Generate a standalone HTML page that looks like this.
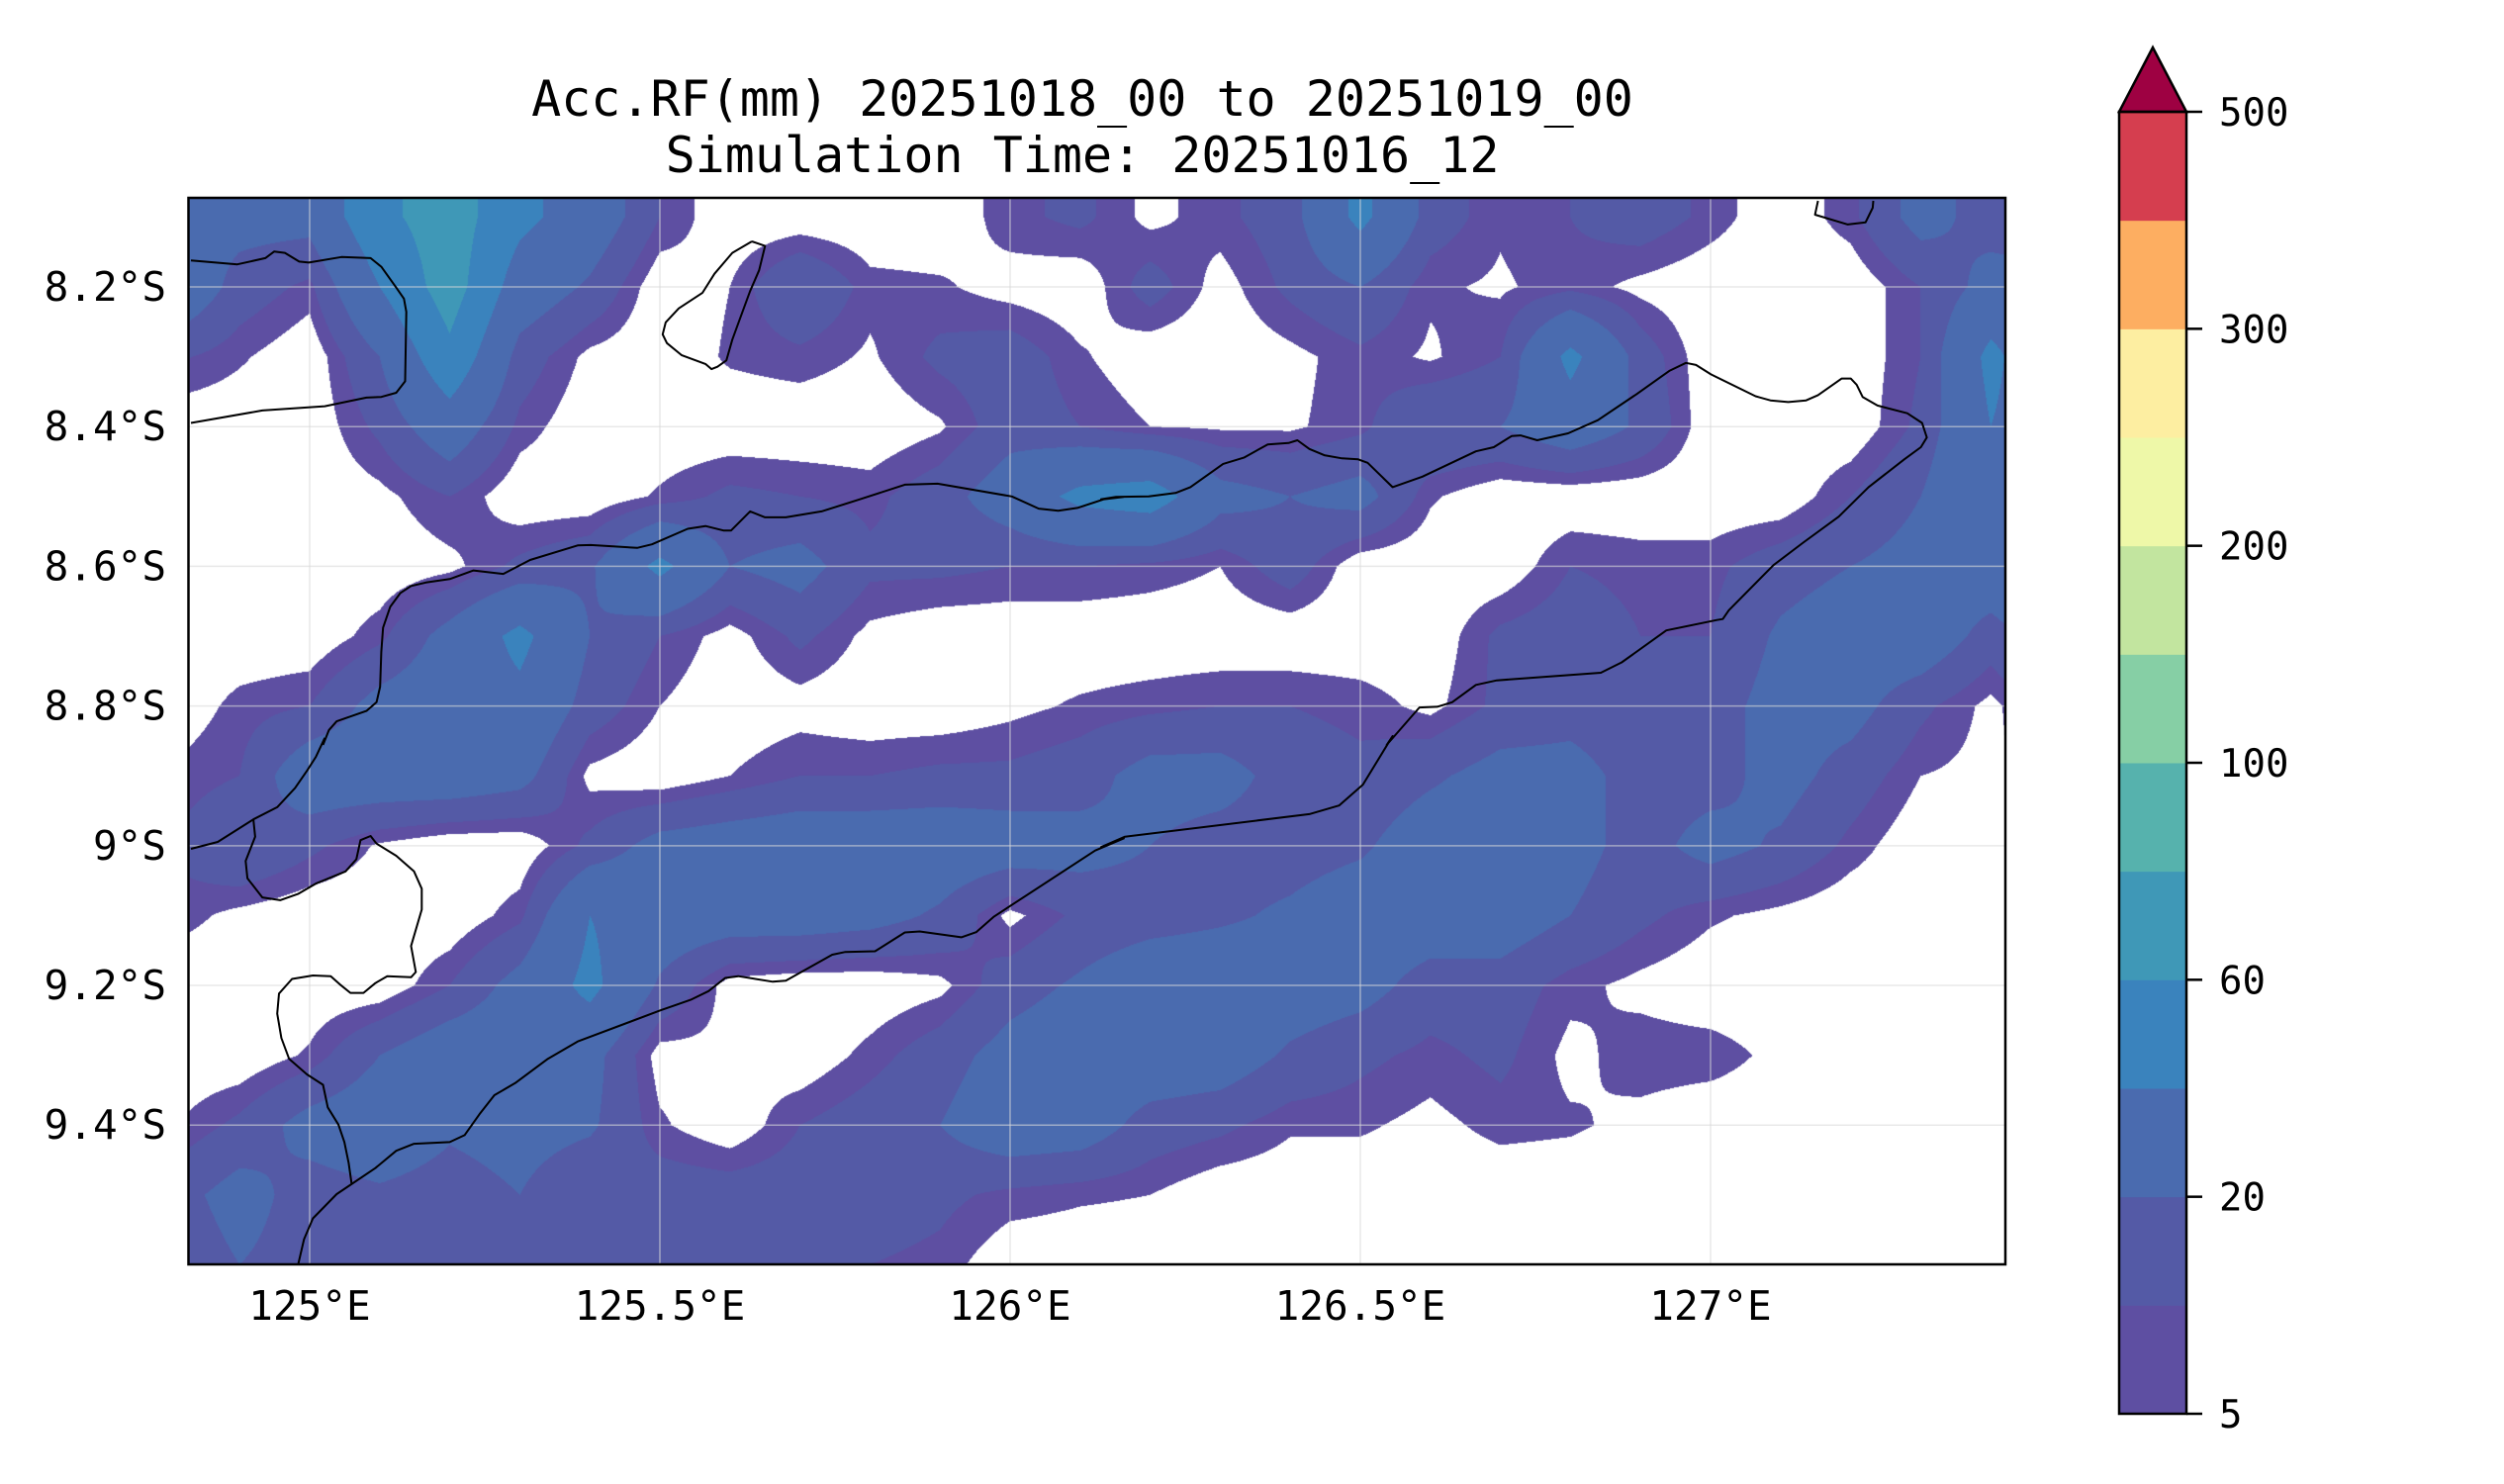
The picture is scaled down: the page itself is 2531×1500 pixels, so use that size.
<!DOCTYPE html>
<html><head><meta charset="utf-8"><style>
html,body{margin:0;padding:0;background:#fff;}
#wrap{position:relative;width:2531px;height:1500px;overflow:hidden;background:#fff;}
#fill{position:absolute;left:0;top:0;}
svg{position:absolute;left:0;top:0;}
text{font-family:"DejaVu Sans Mono","Liberation Mono",monospace;fill:#000;}
</style></head><body>
<div id="wrap">
<canvas id="fill" width="2531" height="1500"></canvas>
<svg id="svg" width="2531" height="1500">
<text x="1094" y="117" font-size="50" text-anchor="middle">Acc.RF(mm) 20251018_00 to 20251019_00</text>
<text x="1094" y="174" font-size="50" text-anchor="middle">Simulation Time: 20251016_12</text>
<g id="grid"></g>
<g id="coast"></g>
<rect x="190.5" y="200" width="1836.5" height="1078" fill="none" stroke="#000" stroke-width="2.5"/>
<g id="xlabels"></g>
<g id="ylabels"></g>
<g id="cbar"></g>
</svg>
</div>
<script>
const lonCoords=[124.8,124.9,125.0,125.1,125.2,125.3,125.4,125.5,125.6,125.7,125.8,125.9,126.0,126.1,126.2,126.3,126.4,126.5,126.6,126.7,126.8,126.9,127.0,127.1,127.2,127.3,127.4,127.5];
const latCoords=[8.0,8.1,8.2,8.3,8.4,8.5,8.6,8.7,8.8,8.9,9.0,9.1,9.2,9.3,9.4,9.5,9.6,9.7];
const rainMm=[
[25,25,25,55,70,45,30,10,0,0,0,0,8,12,3,8,15,45,15,6,10,15,8,0,8,25,15,5],
[25,25,25,55,70,45,30,10,0,0,0,0,8,12,3,8,15,45,15,6,10,15,8,0,8,25,15,5],
[35,15,8,40,70,30,18,0,5,20,7,6,2,0,14,2,12,20,6,4,8,3,0,0,0,10,25,30],
[12,6,0,20,55,15,3,0,6,8,4,12,15,6,0,0,3,8,4,10,45,15,0,0,0,10,45,20],
[0,0,0,12,30,8,0,0,0,0,0,4,15,10,5,4,4,8,20,20,30,18,0,0,0,12,40,25],
[0,0,0,3,10,0,0,6,12,10,8,15,28,45,50,25,20,25,6,0,0,0,0,0,10,20,40,30],
[0,0,0,0,3,12,18,45,20,25,12,12,10,10,8,5,15,0,0,0,10,8,8,15,20,25,30,30],
[0,0,0,8,25,45,20,10,2,12,3,0,0,0,0,0,0,0,0,12,15,10,10,22,28,30,15,30],
[0,7,10,25,30,35,15,5,0,2,0,0,3,6,8,10,10,8,3,12,15,12,15,25,25,12,3,15],
[6,10,30,30,30,25,3,0,5,10,10,12,12,15,25,25,15,12,18,25,25,15,15,25,15,5,3,10],
[10,20,12,4,0,0,12,25,28,30,30,30,28,25,20,15,15,18,28,28,25,15,25,18,8,0,0,0],
[8,3,0,0,0,8,40,30,28,28,25,18,3,12,15,18,22,28,28,28,20,12,6,3,0,0,0,0],
[0,0,0,0,10,25,45,18,2,0,0,3,15,22,30,30,28,25,15,15,7,3,0,0,0,0,0,0],
[0,0,6,20,30,30,25,2,4,0,7,15,25,30,30,28,18,12,8,12,3,8,8,3,0,0,0,0],
[4,12,25,30,22,25,22,6,0,10,15,20,30,28,15,12,6,6,3,7,6,3,0,0,0,0,0,0],
[15,25,15,18,15,20,10,15,15,15,15,12,8,6,5,0,0,0,0,0,0,0,0,0,0,0,0,0],
[12,20,15,15,10,15,10,12,12,12,10,8,0,0,0,0,0,0,0,0,0,0,0,0,0,0,0,0],
[12,20,15,15,10,15,10,12,12,12,10,8,0,0,0,0,0,0,0,0,0,0,0,0,0,0,0,0]];
const levels=[5,10,20,40,60,80,100,150,200,250,300,400,500];
const levelColors=["#5e4fa2","#545aa6","#4a6baf","#3a83bd","#3f98b7","#56b2ad","#86cfa5","#c2e59f","#eef8a8","#fdeea1","#fdae61","#d53e4f"];
const overColor="#9e0142";
const cbarTicks=[5,20,60,100,200,300,500];
const xTicks=[125,125.5,126,126.5,127];
const xTickLabels=["125°E","125.5°E","126°E","126.5°E","127°E"];
const yTicks=[8.2,8.4,8.6,8.8,9.0,9.2,9.4];
const yTickLabels=["8.2°S","8.4°S","8.6°S","8.8°S","9°S","9.2°S","9.4°S"];

const PL=190.5,PR=2027,PT=200,PB=1278;
const LON0=124.827,LAT0=8.0725,PXD=708,PYD=706;
function xOf(lon){return PL+(lon-LON0)*PXD;}
function yOf(lat){return PT+(lat-LAT0)*PYD;}
const NS="http://www.w3.org/2000/svg";
function mk(tag,attrs,parent){const e=document.createElementNS(NS,tag);for(const k in attrs)e.setAttribute(k,attrs[k]);parent.appendChild(e);return e;}

(function(){
 const cv=document.getElementById('fill');const ctx=cv.getContext('2d');
 const x0=Math.ceil(PL),x1=Math.floor(PR),y0=Math.ceil(PT),y1=Math.floor(PB);
 const w=x1-x0,h=y1-y0;const img=ctx.createImageData(w,h);
 const rgb=levelColors.map(c=>[parseInt(c.substr(1,2),16),parseInt(c.substr(3,2),16),parseInt(c.substr(5,2),16)]);
 const orgb=[158,1,66];
 const dLon=lonCoords[1]-lonCoords[0],dLat=latCoords[1]-latCoords[0];
 for(let j=0;j<h;j++){
  const lat=LAT0+(y0+j+0.5-PT)/PYD;let fy=(lat-latCoords[0])/dLat;let r=Math.floor(fy);
  if(r<0)r=0;if(r>latCoords.length-2)r=latCoords.length-2;const ty=fy-r;
  for(let i=0;i<w;i++){
   const lon=LON0+(x0+i+0.5-PL)/PXD;let fx=(lon-lonCoords[0])/dLon;let c=Math.floor(fx);
   if(c<0)c=0;if(c>lonCoords.length-2)c=lonCoords.length-2;const tx=fx-c;
   const v=(rainMm[r][c]*(1-tx)+rainMm[r][c+1]*tx)*(1-ty)+(rainMm[r+1][c]*(1-tx)+rainMm[r+1][c+1]*tx)*ty;
   const p=(j*w+i)*4;
   if(v<levels[0]){img.data[p]=255;img.data[p+1]=255;img.data[p+2]=255;img.data[p+3]=255;continue;}
   let k=0;while(k<levels.length-1&&v>=levels[k+1])k++;
   const col=k>=levelColors.length?orgb:rgb[k];
   img.data[p]=col[0];img.data[p+1]=col[1];img.data[p+2]=col[2];img.data[p+3]=255;
  }
 }
 ctx.putImageData(img,x0,y0);
})();

const grid=document.getElementById('grid');
xTicks.forEach(v=>{const l=mk('line',{x1:xOf(v),x2:xOf(v),y1:PT,y2:PB,stroke:'#d8d8d8','stroke-width':1.5,'stroke-opacity':0.6},grid);
});
yTicks.forEach(v=>{const l=mk('line',{x1:PL,x2:PR,y1:yOf(v),y2:yOf(v),stroke:'#d8d8d8','stroke-width':1.5,'stroke-opacity':0.6},grid);
});

const xl=document.getElementById('xlabels');
xTicks.forEach((v,i)=>{const t=mk('text',{x:xOf(v),y:1334,'font-size':41,'text-anchor':'middle'},xl);t.textContent=xTickLabels[i];
});
const yl=document.getElementById('ylabels');
yTicks.forEach((v,i)=>{const t=mk('text',{x:168,y:yOf(v)+14,'font-size':41,'text-anchor':'end'},yl);t.textContent=yTickLabels[i];
});

const coastA=[[0,172],[78,183],[125,165],[140,146],[158,150],[182,175],[198,178],[253,162],[302,165],[320,190],[345,250],[358,282],[362,320],[360,520],[345,553],[320,565],[295,567],[225,592],[120,604],[0,640]];
const coastIsland=[[943,117],[965,130],[955,200],[940,260],[925,330],[910,400],[900,460],[885,478],[875,485],[865,470],[825,445],[800,410],[793,385],[798,350],[820,310],[860,265],[880,210],[910,150],[943,117]];
const coastMainZ2=[[222,1568],[232,1525],[245,1500],[295,1470],[312,1445],[318,1400],[320,1300],[323,1230],[335,1170],[352,1130],[370,1110],[395,1100],[435,1090],[475,1065],[525,1075],[570,1035],[650,993],[672,992],[750,1000],[775,990],[835,945],[865,937],[895,950],[908,950],[940,895],[965,912],[1000,912],[1060,895],[1125,860],[1200,818],[1255,815],[1380,852],[1425,887],[1458,893],[1490,885],[1535,860],[1568,853]];
const coastMainZ3=[[0,860],[25,853],[80,852],[125,842],[150,825],[205,758],[240,740],[280,702],[315,698],[330,690],[350,715],[375,733],[405,742],[432,745],[448,755],[490,825],[540,795],[630,722],[660,710],[690,678],[705,676],[733,690],[785,670],[835,632],[900,557],[955,490],[983,467],[1000,473],[1025,500],[1100,563],[1125,575],[1155,580],[1185,575],[1205,560],[1245,512],[1260,512],[1270,530],[1280,565],[1305,590],[1355,612],[1380,640],[1388,682],[1378,710],[1350,745],[1290,825],[1240,910],[1180,985],[1130,1050],[1055,1180],[1045,1205],[1035,1208],[950,1238],[875,1330],[840,1360],[665,1382],[630,1395],[590,1445],[565,1458],[535,1460],[480,1568]];
const coastMainZ5=[[490,0],[440,140],[400,200],[350,225],[40,290],[0,320]];
const coastMainZ4=[[1568,295],[1520,330],[1350,520],[1320,565],[1295,580],[1225,563],[1200,566],[1150,620],[1100,622],[1078,630],[1000,705],[978,708],[920,692],[898,697],[870,735],[840,760],[790,790],[650,880],[600,930],[545,1000],[510,1035],[485,1090],[460,1150],[435,1170],[375,1175],[345,1195],[310,1245],[245,1320],[205,1390],[190,1450],[180,1525]];
const coastLeftZ4=[[0,325],[45,305],[105,240],[145,205],[175,150],[195,100],[210,60],[225,5]];
const coastHookZ4=[[105,240],[108,290],[92,360],[95,410],[120,465],[150,473],[180,455],[210,425],[260,390],[278,355],[285,300],[302,288],[312,310],[345,345],[375,390],[388,440],[388,500],[370,605],[378,680],[370,695],[330,692],[310,712],[290,740],[268,740],[250,715],[235,692],[205,690],[170,700],[148,742],[145,800],[152,870],[165,930],[195,975],[222,1005],[230,1070],[248,1120],[258,1170],[265,1230],[270,1290]];
const coastSmallZ3=[[1205,0],[1200,40],[1255,68],[1285,62],[1297,20],[1298,0]];
function conv(pts,ox,oy){return pts.map(p=>[ox+p[0]/1.663,oy+p[1]/2.851]);}
const coastG=document.getElementById('coast');
function drawCoast(pts,name){const d=pts.map((p,i)=>(i?'L':'M')+p[0].toFixed(1)+' '+p[1].toFixed(1)).join(' ');
 const e=mk('path',{d:d,fill:'none',stroke:'#000','stroke-width':2,'stroke-linejoin':'round'},coastG);
 }
drawCoast(conv(coastA,193,203),'coastline-northwest');
drawCoast(conv(coastIsland,193,203),'coastline-island');
drawCoast([].concat(conv(coastMainZ2,193,203),conv(coastMainZ3,1113,203),conv(coastMainZ5,1113,744),conv(coastMainZ4,193,744)),'coastline-main');
drawCoast(conv(coastLeftZ4,193,744),'coastline-west');
drawCoast(conv(coastHookZ4,193,744),'coastline-peninsula');
drawCoast(conv(coastSmallZ3,1113,203),'coastline-small-island');

const cb=document.getElementById('cbar');
const CBL=2142,CBR=2210,CBT=113,CBB=1429,CBA=48;
const bandH=(CBB-CBT)/levelColors.length;
levelColors.forEach((c,i)=>{const r=mk('rect',{x:CBL,y:CBB-(i+1)*bandH,width:CBR-CBL,height:bandH+0.5,fill:c},cb);
});
const tri=mk('polygon',{points:`${CBL},${CBT} ${(CBL+CBR)/2},${CBA} ${CBR},${CBT}`,fill:overColor,stroke:'#000','stroke-width':2.5,'stroke-linejoin':'miter'},cb);

const fr=mk('rect',{x:CBL,y:CBT,width:CBR-CBL,height:CBB-CBT,fill:'none',stroke:'#000','stroke-width':2.5},cb);

cbarTicks.forEach(v=>{const k=levels.indexOf(v);const y=CBB-k*bandH;
 const l=mk('line',{x1:CBR,x2:CBR+16,y1:y,y2:y,stroke:'#000','stroke-width':2.5},cb);
 
 const t=mk('text',{x:2243,y:y+14,'font-size':39},cb);t.textContent=String(v);
 });
</script>
</body></html>
